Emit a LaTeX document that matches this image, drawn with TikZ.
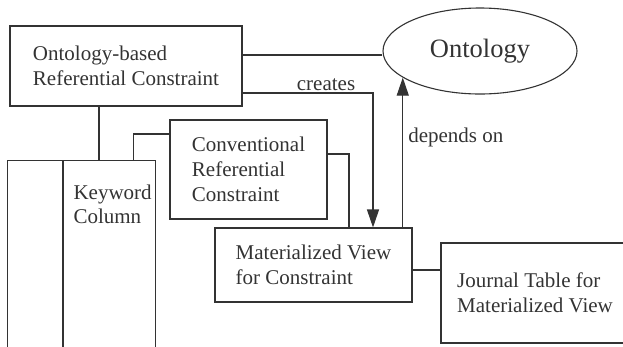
\documentclass[tikz,border=0pt]{standalone}
\usepackage{fontspec}
\setmainfont{Liberation Serif}
\usetikzlibrary{shapes.geometric,arrows.meta}
\definecolor{linegray}{HTML}{333333}

\begin{document}
\begin{tikzpicture}[x=1pt,y=-1pt,linegray,line width=1.1pt,
	box/.style={draw,rectangle,align=left,inner sep=0pt,text=linegray,
		font=\fontsize{21}{25}\selectfont},
	arr/.style={-{Triangle[length=18pt,width=12pt]}}]
	\clip (0,0) rectangle (623,346);
	\node[box,minimum width=232,minimum height=80] (obrc) at (126,66) {Ontology-based\\Referential Constraint};
	\node[draw,ellipse,inner sep=0pt,minimum width=194,minimum height=86,
		font=\fontsize{26.5}{30}\selectfont] (onto) at (480,51) {Ontology};
	\node[box,minimum width=157,minimum height=99] (conv) at (248.5,169.5) {Conventional\\Referential\\Constraint};
	\node[box,minimum width=197,minimum height=74] (mat) at (313.5,265) {Materialized View\\for Constraint};
	\node[box,minimum width=188,minimum height=100] (jrnl) at (535,293) {Journal Table for\\Materialized View};
	\node[box,anchor=north west,minimum width=148,minimum height=240] (tbl) at (7,160) {};
	\draw ([xshift=56pt]tbl.north west) -- ([xshift=56pt]tbl.south west);
	\node[anchor=north west,inner sep=0pt,align=left,font=\fontsize{21}{24}\selectfont] (kwd) at (73,184) {Keyword\\Column};
	\draw ([yshift=11pt]obrc.east) -- ([yshift=11pt]obrc.east -| onto.west);
	\draw[arr] ([yshift=-27pt]obrc.east) -| node[pos=0.32,above,inner sep=2pt,font=\fontsize{21}{24}\selectfont] {creates} ([xshift=59.5pt]mat.north);
	\draw[arr] (onto.199.4 |- mat.north) -- node[pos=0.6,right,inner sep=5pt,font=\fontsize{21}{24}\selectfont] {depends on} (onto.199.4);
	\draw ([xshift=-27pt]obrc.south) -- ([xshift=-27pt]obrc.south |- tbl.north);
	\draw ([yshift=35.5pt]conv.west) -| ([xshift=52pt]tbl.north);
	\draw ([yshift=15.5pt]conv.east) -| ([xshift=35.5pt]mat.north);
	\draw ([yshift=-5pt]mat.east) -- ([yshift=-5pt]mat.east -| jrnl.west);
\end{tikzpicture}
\end{document}
